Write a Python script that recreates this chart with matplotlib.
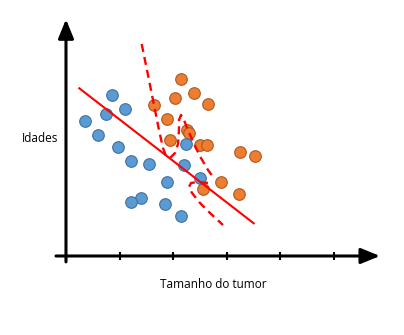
import matplotlib

matplotlib.use("Agg")
import matplotlib.pyplot as plt

# tumour size (x) vs age (y), two classes
benign_size = [0.858, 1.101, 0.746, 0.349, 0.603, 0.965, 1.213, 1.554,
               2.239, 2.207, 1.879, 2.500, 1.394, 1.207, 1.853, 2.140]
benign_age = [3.004, 2.737, 2.644, 2.519, 2.252, 2.034, 1.772, 1.711,
              2.095, 1.692, 1.386, 1.461, 1.077, 1.007, 0.976, 0.746]

malign_size = [2.140, 2.394, 2.034, 1.636, 2.644, 1.884, 2.257, 2.300,
               1.946, 2.500, 2.636, 3.252, 3.532, 2.892, 2.562, 3.233]
malign_age = [3.297, 3.047, 2.942, 2.817, 2.841, 2.562, 2.345, 2.289,
              2.170, 2.076, 2.065, 1.935, 1.860, 1.386, 1.256, 1.162]

# linear boundary
line_x = [0.248, 3.502]
line_y = [3.129, 0.610]

# hand-drawn non-linear boundary (two dashed strokes)
curve1_x = [1.412, 1.530, 1.642, 1.735, 1.810, 1.866, 1.940, 2.034, 2.090,
            2.108, 2.108, 2.146, 2.201, 2.276, 2.388, 2.519, 2.649, 2.761]
curve1_y = [3.955, 3.377, 2.817, 2.351, 2.015, 1.866, 1.828, 1.922, 2.090,
            2.351, 2.537, 2.631, 2.537, 2.351, 2.090, 1.828, 1.604, 1.455]
curve2_x = [2.649, 2.463, 2.332, 2.295, 2.351, 2.500, 2.687, 2.929]
curve2_y = [1.362, 1.381, 1.362, 1.287, 1.175, 0.989, 0.802, 0.578]

ticks = [0, 1, 2, 3, 4, 5]

fig = plt.figure(figsize=(4.04, 3.35), dpi=100)
ax = fig.add_axes([0, 0, 1, 1])
ax.set_xlim(-1.231, 6.306)
ax.set_ylim(-1.474, 4.776)
ax.axis("off")

ax.scatter(malign_size, malign_age, s=70, c="#ED7D31", edgecolors="#AE5A21",
           linewidths=0.8, zorder=3)
ax.scatter(benign_size, benign_age, s=70, c="#5B9BD5", edgecolors="#41719C",
           linewidths=0.8, zorder=3)

ax.plot(line_x, line_y, color="red", lw=1.5, zorder=4)
for cx, cy in [(curve1_x, curve1_y), (curve2_x, curve2_y)]:
    ax.plot(cx, cy, color="red", lw=1.7, linestyle=(0, (3.4, 2.2)), zorder=4)

# axes drawn as arrows
arrow = dict(arrowstyle="-|>,head_length=1.15,head_width=0.47", lw=2.2,
             color="black", shrinkA=0, shrinkB=0)
ax.annotate("", xy=(0, 4.416), xytext=(0, -0.11), arrowprops=arrow)
ax.annotate("", xy=(5.858, 0), xytext=(-0.187, 0), arrowprops=arrow)
ax.vlines(ticks, -0.075, 0.075, color="black", lw=1.5)

ax.text(-0.826, 2.201, "Idades", fontsize=8.5, family="Open Sans",
        ha="left", va="center")
ax.text(2.743, -0.541, "Tamanho do tumor", fontsize=8.5, family="Open Sans",
        ha="center", va="center")

fig.savefig("out.png", dpi=100)
